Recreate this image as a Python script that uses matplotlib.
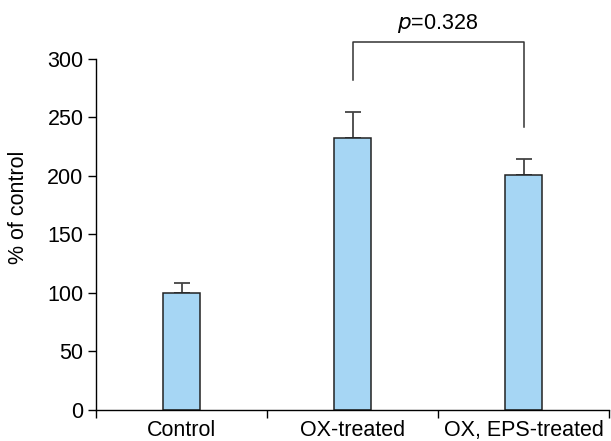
import matplotlib
matplotlib.use("Agg")
import matplotlib.pyplot as plt
import numpy as np

categories = ["Control", "OX-treated", "OX, EPS-treated"]
values = [100, 232, 201]
errors = [8.5, 23, 13.5]
yticks = [0, 50, 100, 150, 200, 250, 300]
p_label = "=0.328"
bracket_y = 314
bracket_left_bottom = 282
bracket_right_bottom = 242

plt.rcParams['font.family'] = ['Liberation Sans', 'DejaVu Sans']
FS = 15.5

fig = plt.figure(figsize=(6.11, 4.41), dpi=100)
ax = fig.add_axes([96/611, 1-410/441, (609-96)/611, (410-5)/441])

x = np.arange(len(categories))
ax.bar(x, values, width=0.222, color="#a6d6f4", edgecolor="#222222", linewidth=1.1, zorder=2)
ax.errorbar(x, values, yerr=[np.zeros(len(errors)), errors], fmt="none",
            ecolor="#444444", elinewidth=1.3, capsize=6, capthick=1.3, zorder=1)

ax.set_xlim(-0.5, 2.5)
ax.set_ylim(0, 346)
ax.spines['top'].set_visible(False)
ax.spines['right'].set_visible(False)
ax.spines['left'].set_bounds(0, 300)
ax.spines['left'].set_linewidth(1.0)
ax.spines['bottom'].set_linewidth(1.0)

ax.set_yticks(yticks)
ax.set_yticklabels([str(v) for v in yticks], fontsize=FS)
ax.tick_params(axis='y', length=6, width=1.0, pad=3)

ax.set_xticks([-0.5, 0.5, 1.5, 2.5])
ax.set_xticklabels([])
ax.tick_params(axis='x', which='major', length=6, width=1.0)
ax.set_xticks(x, minor=True)
ax.set_xticklabels(categories, minor=True, fontsize=FS)
ax.tick_params(axis='x', which='minor', length=0, pad=7)

ax.set_ylabel("% of control", fontsize=FS, labelpad=13)

# significance bracket
ax.plot([1, 1, 2, 2], [bracket_left_bottom, bracket_y, bracket_y, bracket_right_bottom],
        color="#333333", linewidth=1.1)
ax.text(1.5, bracket_y + 6, r"$\it{p}$" + p_label, ha="center", va="bottom", fontsize=FS)

fig.savefig("out.png", dpi=100)
